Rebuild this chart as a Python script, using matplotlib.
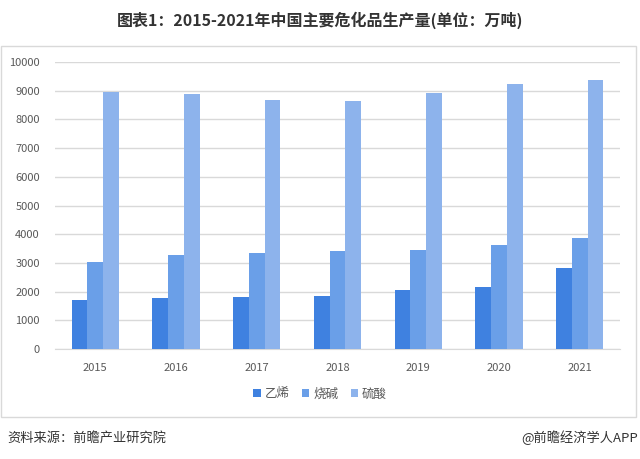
import numpy as np
import matplotlib.pyplot as plt
from matplotlib.patches import Rectangle

plt.rcParams['font.family'] = ['Noto Sans CJK SC', 'DejaVu Sans']

# data (万吨)
years = ['2015', '2016', '2017', '2018', '2019', '2020', '2021']
series_names = ['乙烯', '烧碱', '硫酸']
ethylene = [1700, 1770, 1800, 1840, 2045, 2150, 2810]
caustic = [3020, 3270, 3330, 3400, 3440, 3610, 3860]
sulfuric = [8950, 8870, 8660, 8630, 8910, 9220, 9360]
colors = ['#3f81e0', '#6a9fe8', '#8db3ec']

W, H = 640, 459
fig = plt.figure(figsize=(6.4, 4.59), dpi=100)

# outer chart frame
fig.patches.append(Rectangle((1 / W, 1 - 417 / H), 635 / W, 371 / H, transform=fig.transFigure,
                             fill=False, edgecolor='#d9d9d9', linewidth=1))

ax = fig.add_axes([55 / W, 1 - 349 / H, 565 / W, 287 / H])
x = np.arange(len(years))
bw = 0.195
for i, (vals, name) in enumerate(zip([ethylene, caustic, sulfuric], series_names)):
    ax.bar(x + (i - 1) * bw, vals, width=bw, color=colors[i], label=name, zorder=3)

ax.set_xlim(-0.5, len(years) - 0.5)
ax.set_ylim(0, 10000)
ax.set_yticks(range(0, 10001, 1000))
ax.set_xticks(x)
ax.set_xticklabels(years)
ax.grid(axis='y', color='#d9d9d9', linewidth=1, zorder=0)
for s in ['top', 'right', 'left']:
    ax.spines[s].set_visible(False)
ax.spines['bottom'].set_color('#d9d9d9')
ax.tick_params(axis='both', length=0, labelsize=8, colors='#595959')
ax.tick_params(axis='y', pad=11)
ax.tick_params(axis='x', pad=10)

leg = fig.legend(loc='center', bbox_to_anchor=(320 / W, 1 - 394 / H), ncol=3, frameon=False,
                 fontsize=9, handlelength=0.6, handleheight=0.6, handletextpad=0.3,
                 columnspacing=1.0)
for t in leg.get_texts():
    t.set_color('#595959')

fig.text(0.5, 1 - 20 / H, '图表1：2015-2021年中国主要危化品生产量(单位：万吨)', ha='center', va='center',
         fontsize=11.5, fontweight='bold', color='#333333')
fig.text(7 / W, 1 - 438 / H, '资料来源：前瞻产业研究院', ha='left', va='center', fontsize=9.5, color='#333333')
fig.text(638 / W, 1 - 438 / H, '@前瞻经济学人APP', ha='right', va='center', fontsize=9.5, color='#333333')

fig.savefig('out.png', dpi=100)
